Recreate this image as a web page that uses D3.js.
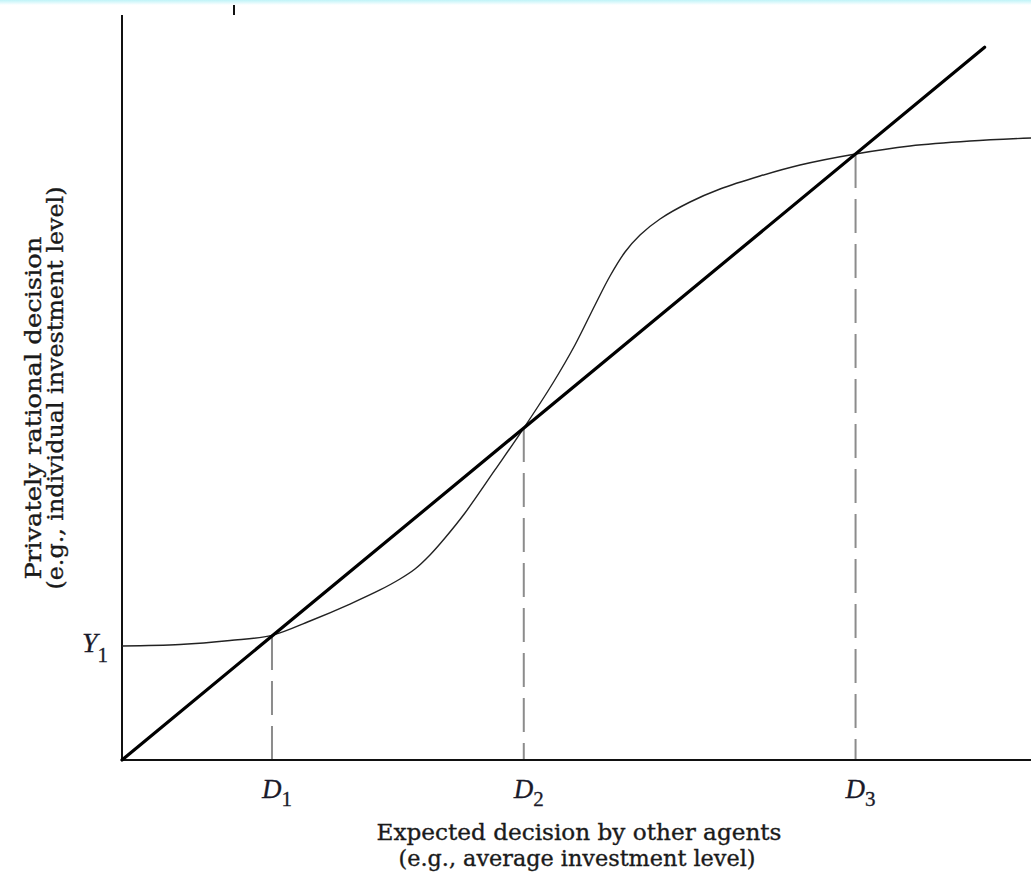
<!DOCTYPE html>
<html>
<head>
<meta charset="utf-8">
<script src="https://cdn.jsdelivr.net/npm/d3@7"></script>
<style>
  html, body { margin: 0; padding: 0; background: #fff; }
  svg { display: block; }
</style>
</head>
<body>
<svg id="chart" width="1031" height="874"></svg>
<script>
// ---- data ----
// Privately rational decision curve (S-shaped), x = expected decision by others
const curveX = [0, 6.38, 11.88, 16.5, 20.68, 25.08, 28.38, 30.58, 32.23, 33.88, 35.53, 37.73, 41.03, 44.2, 47.41, 49.83, 52.04, 53.69, 55.34, 56.99, 59.19, 62.49, 65.79, 70.19, 74.59, 80.7, 86.69, 93.29, 100];
const curveY = [15.18, 15.38, 15.91, 16.6, 18.51, 20.77, 22.64, 24.1, 25.43, 27.3, 29.56, 32.89, 38.62, 44.2, 50.2, 55.26, 60.59, 64.45, 67.64, 69.91, 72.04, 74.3, 76.03, 77.76, 79.23, 80.7, 81.76, 82.42, 82.82];
// 45-degree line (decision = expected decision)
const diagX = [0, 94.9];
// equilibria
const eqX = [16.5, 44.2, 80.7];
const eqLabels = ["D", "D", "D"];
const eqSubs = ["1", "2", "3"];
// y tick
const yTickValue = 15.18;
const yTickLabel = "Y";
const yTickSub = "1";
// axis titles
const xTitle = ["Expected decision by other agents", "(e.g., average investment level)"];
const yTitle = ["Privately rational decision", "(e.g., individual investment level)"];
const xDomain = [0, 100];
const yDomain = [0, 99.2];

// ---- drawing ----
const svg = d3.select("#chart");
const x = d3.scaleLinear().domain(xDomain).range([122, 1031]);
const y = d3.scaleLinear().domain(yDomain).range([760, 15]);

// faint cyan strip at the very top (scan artefact)
const grad = svg.append("defs").append("linearGradient")
  .attr("id", "topg").attr("x1", 0).attr("y1", 0).attr("x2", 0).attr("y2", 1);
grad.append("stop").attr("offset", "0%").attr("stop-color", "#bff3f8");
grad.append("stop").attr("offset", "100%").attr("stop-color", "#ffffff");
svg.append("rect").attr("x", 0).attr("y", 0).attr("width", 1031).attr("height", 5)
  .attr("fill", "url(#topg)");
// small stray mark at top
svg.append("line").attr("x1", 234).attr("x2", 234).attr("y1", 5).attr("y2", 15)
  .attr("stroke", "#111").attr("stroke-width", 2);

// dashed drop lines
svg.append("g").selectAll("line").data(eqX).join("line")
  .attr("x1", d => x(d)).attr("x2", d => x(d))
  .attr("y1", d => y(d)).attr("y2", y(0))
  .attr("stroke", "#8c8c8c").attr("stroke-width", 2)
  .attr("stroke-dasharray", "34,11");

// axes
svg.append("line").attr("x1", x(0)).attr("x2", x(0)).attr("y1", y(0)).attr("y2", y(yDomain[1]))
  .attr("stroke", "#111").attr("stroke-width", 2);
svg.append("line").attr("x1", x(0)).attr("x2", x(xDomain[1])).attr("y1", y(0)).attr("y2", y(0))
  .attr("stroke", "#111").attr("stroke-width", 2.2);

// S-curve
const pts = curveX.map((d, i) => [d, curveY[i]]);
svg.append("path").datum(pts)
  .attr("d", d3.line().x(d => x(d[0])).y(d => y(d[1])).curve(d3.curveCatmullRom.alpha(0.5)))
  .attr("fill", "none").attr("stroke", "#222").attr("stroke-width", 1.4);

// 45-degree line
svg.append("line")
  .attr("x1", x(diagX[0])).attr("y1", y(diagX[0]))
  .attr("x2", x(diagX[1])).attr("y2", y(diagX[1]))
  .attr("stroke", "#000").attr("stroke-width", 3.2).attr("stroke-linecap", "round");

// equilibrium labels
const lab = svg.append("g").selectAll("text").data(eqX).join("text")
  .attr("x", d => x(d) - 10).attr("y", y(0) + 38)
  .attr("font-family", "'Liberation Serif', 'DejaVu Serif', serif")
  .attr("fill", "#1a1a2a").attr("stroke", "#1a1a2a").attr("stroke-width", 0.3);
lab.append("tspan").attr("font-style", "italic").attr("font-size", 27)
  .text((d, i) => eqLabels[i]);
lab.append("tspan").attr("font-size", 21).attr("dy", 8)
  .text((d, i) => eqSubs[i]);

// Y1 label
const yl = svg.append("text").attr("x", 82).attr("y", y(yTickValue) + 6)
  .attr("font-family", "'Liberation Serif', 'DejaVu Serif', serif").attr("fill", "#1a1a2a")
  .attr("stroke", "#1a1a2a").attr("stroke-width", 0.3);
yl.append("tspan").attr("font-style", "italic").attr("font-size", 28).text(yTickLabel);
yl.append("tspan").attr("font-size", 21).attr("dy", 10).text(yTickSub);

// axis titles
const titleStyle = sel => sel
  .attr("font-family", "'DejaVu Serif', serif").attr("font-size", 22).attr("fill", "#1a1a1a")
  .attr("stroke", "#1a1a1a").attr("stroke-width", 0.35)
  .attr("lengthAdjust", "spacingAndGlyphs").attr("text-anchor", "middle");

svg.append("text").call(titleStyle).attr("x", 579).attr("y", 840)
  .attr("textLength", 405).text(xTitle[0]);
svg.append("text").call(titleStyle).attr("x", 577).attr("y", 866)
  .attr("textLength", 357).text(xTitle[1]);

svg.append("text").call(titleStyle).attr("transform", "translate(41,408) rotate(-90)")
  .attr("textLength", 343).text(yTitle[0]);
svg.append("text").call(titleStyle).attr("transform", "translate(63,388) rotate(-90)")
  .attr("textLength", 403).text(yTitle[1]);
</script>
</body>
</html>
